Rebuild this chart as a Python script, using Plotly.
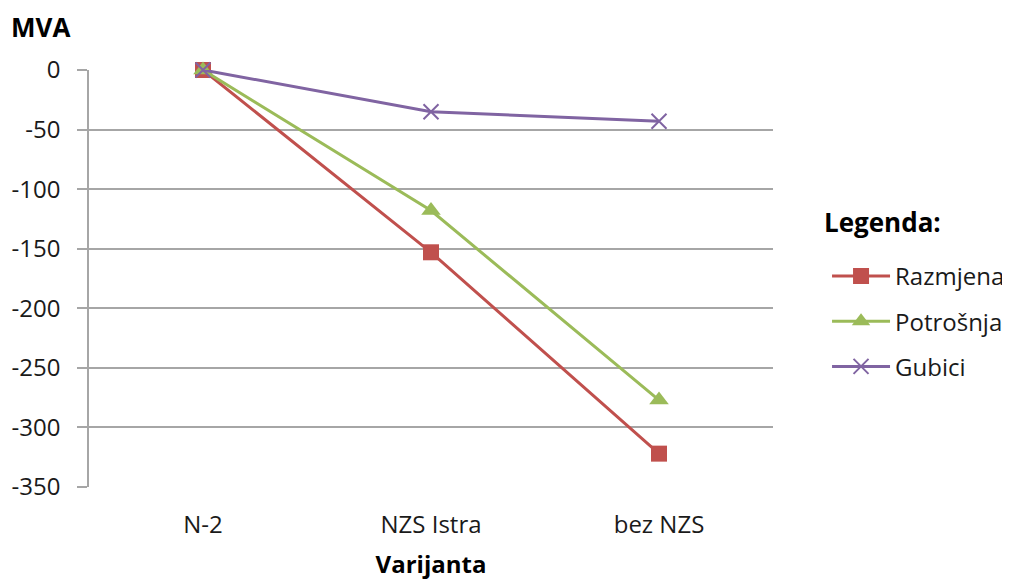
import plotly.graph_objects as go

# categories and series
varijante = ["N-2", "NZS Istra", "bez NZS"]
razmjena = [0, -153, -322]
potrosnja = [0, -118, -277]
gubici = [0, -35, -43]

y_ticks = [0, -50, -100, -150, -200, -250, -300, -350]
y_labels = ["0", "-50", "-100", "-150", "-200", "-250", "-300", "-350"]

font_family = "Open Sans, Liberation Sans, sans-serif"

fig = go.Figure()
fig.add_trace(go.Scatter(x=varijante, y=razmjena, mode="lines+markers", name="Razmjena",
                         line=dict(color="#C0504D", width=3),
                         marker=dict(symbol="square", size=16, color="#C0504D"),
                         legendgroup="a", cliponaxis=False))
fig.add_trace(go.Scatter(x=varijante, y=potrosnja, mode="lines+markers", name="Potrošnja",
                         line=dict(color="#9BBB59", width=3),
                         marker=dict(symbol="triangle-up", size=17, color="#9BBB59"),
                         legendgroup="b", cliponaxis=False))
fig.add_trace(go.Scatter(x=varijante, y=gubici, mode="lines+markers", name="Gubici",
                         line=dict(color="#8064A2", width=3),
                         marker=dict(symbol="x-thin", size=15, color="#8064A2",
                                     line=dict(color="#8064A2", width=2)),
                         legendgroup="c", cliponaxis=False))

# page body has an 8px margin, figure shrunk to fit; no auto-expanding margins
fig.update_layout(
    width=1002, height=572,
    margin=dict(l=81, r=237, t=62, b=93, autoexpand=False),
    paper_bgcolor="white", plot_bgcolor="white",
    font=dict(family=font_family, size=24, color="#1a1a1a"),
    showlegend=True,
    legend=dict(
        x=1.079, y=0.559, xanchor="left", yanchor="top",
        traceorder="grouped", tracegroupgap=11,
        itemwidth=58, font=dict(size=24),
    ),
    annotations=[
        dict(text="<b>MVA</b>", xref="paper", yref="paper",
             x=-0.117, y=1.103, xanchor="left", yanchor="middle",
             showarrow=False, font=dict(size=26, color="#000")),
        dict(text="<b>Legenda:</b>", xref="paper", yref="paper",
             x=1.0716, y=0.6355, xanchor="left", yanchor="middle",
             showarrow=False, font=dict(size=26, color="#000")),
    ],
)
fig.update_xaxes(type="category", range=[-0.5, 2.5], showgrid=False, showline=False,
                 ticks="", zeroline=False, ticklabelstandoff=21,
                 title=dict(text="<b>Varijanta</b>", font=dict(size=24, color="#000"), standoff=24))
fig.update_yaxes(range=[-350, 0], tickvals=y_ticks, ticktext=y_labels,
                 showgrid=True, gridcolor="#A6A6A6", gridwidth=1.5,
                 showline=True, linecolor="#A6A6A6", linewidth=1.5, ticks="outside", ticklen=10,
                 tickcolor="#A6A6A6", tickwidth=1.5, zeroline=False, ticklabelstandoff=12)

fig.write_html("out.html")
